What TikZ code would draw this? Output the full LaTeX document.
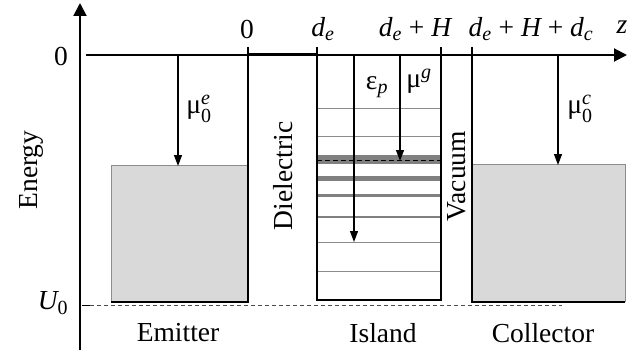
\documentclass[tikz,border=0pt]{standalone}
\usepackage{amsmath}
\usepackage{fontspec}
\setmainfont{Liberation Serif}
\DeclareMathSizes{27.5}{27.5}{20}{15}
\usetikzlibrary{arrows.meta}
\begin{document}
\begin{tikzpicture}[x=1pt,y=-1pt,
  font=\fontsize{27.5}{32}\selectfont,
  axisline/.style={line width=2pt},
  wall/.style={line width=2.6pt},
  level/.style={draw=black!45,line width=1pt},
  band/.style={draw=black!50},
  ptr/.style={line width=1.2pt,-{Triangle[length=11pt,width=8pt]}},
  lbl/.style={inner sep=0pt},
  metal/.style={fill=black!15}]
\useasboundingbox (0,0) rectangle (632,353);
% metals
\fill[metal] (111,165) rectangle (248,302);
\draw[black!45,line width=0.8pt] (111,302) -- (111,165) -- (248,165);
\fill[metal] (472,164) rectangle (625,302);
\draw[black!45,line width=0.8pt] (472,164) -- (625,164) -- (625,302);
% U0 reference
\draw[line width=1pt] (82,305) -- (90,305);
\draw[black!70,line width=0.9pt,dash pattern=on 4pt off 3pt] (90,305) -- (562,305);
% island levels
\draw[level] (317,108) -- (441,108);
\draw[level] (317,136) -- (441,136);
\draw[band,line width=9pt] (317,159) -- (441,159);
\draw[black,line width=0.8pt,dash pattern=on 5pt off 3pt] (317,160.5) -- (441,160.5);
\draw[band,line width=5pt] (317,178) -- (441,178);
\draw[band,line width=3pt] (317,195) -- (441,195);
\draw[band,line width=2pt] (317,217) -- (441,217);
\draw[level] (317,242) -- (441,242);
\draw[level] (317,271) -- (441,271);
% walls
\draw[wall] (248,47) -- (248,302) -- (111,302);
\draw[wall] (317,47) -- (317,300) -- (441,300) -- (441,47);
\draw[wall] (472,47) -- (472,302) -- (625,302);
\draw[line width=3pt] (248,55) -- (317,55);
% axes
\coordinate (ybot) at (80,350);
\coordinate (ytop) at (80,3);
\coordinate (xl) at (86,55);
\coordinate (xr) at (627,55);
\draw[axisline,-{Triangle[length=13pt,width=13pt]}] (ybot) -- (ytop);
\draw[axisline,-{Triangle[length=13pt,width=13pt]}] (xl) -- (xr);
% arrows
\coordinate (ea) at (178,55); \coordinate (eb) at (178,166);
\coordinate (ca) at (558,55); \coordinate (cb) at (558,165);
\coordinate (pa) at (354,55); \coordinate (pb) at (354,242);
\coordinate (ga) at (400,55); \coordinate (gb) at (400,161);
\draw[ptr] (ea) -- (eb);
\draw[ptr] (ca) -- (cb);
\draw[ptr] (pa) -- (pb);
\draw[ptr] (ga) -- (gb);
% labels
\node[lbl] (zero) at (61,56) {0};
\node[lbl] (u0) at (53,303) {$\textit{U}_{\text{0}}$};
\node[lbl,rotate=90] (energy) at (31,170) {Energy};
\node[lbl] (t0) at (247,29) {0};
\node[lbl] (tde) at (323,29) {$\textit{d}_{\textit{e}}$};
\node[lbl] (tdh) at (415,29) {$\textit{d}_{\textit{e}}\text{ + }\textit{H}$};
\node[lbl] (tdhc) at (531,29) {$\textit{d}_{\textit{e}}\text{ + }\textit{H}\text{ + }\textit{d}_{\textit{c}}$};
\node[lbl] (tz) at (622,27) {\textit{z}};
\node[lbl] (mue) at (199,109) {$\text{μ}_{\text{0}}^{\textit{e}}$};
\node[lbl] (muc) at (580,109) {$\text{μ}_{\text{0}}^{\textit{c}}$};
\node[lbl] (eps) at (377,87) {$\text{ε}_{\textit{p}}$};
\node[lbl] (mug) at (419,81) {$\text{μ}^{\textit{g}}$};
\node[lbl,rotate=90] (diel) at (283,176) {Dielectric};
\node[lbl,rotate=90] (vac) at (457,176) {Vacuum};
\node[lbl] (emit) at (178,333) {Emitter};
\node[lbl] (isl) at (383,333) {Island};
\node[lbl] (coll) at (543,333) {Collector};
\end{tikzpicture}
\end{document}
